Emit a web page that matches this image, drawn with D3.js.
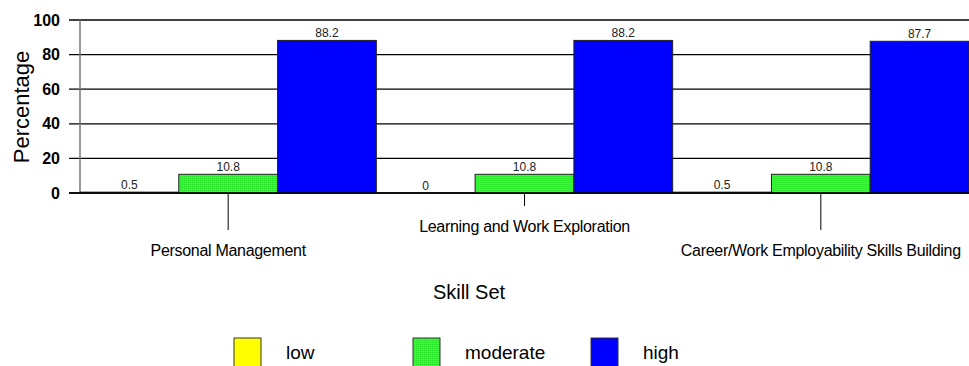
<!DOCTYPE html>
<html>
<head>
<meta charset="utf-8">
<script src="https://cdn.jsdelivr.net/npm/d3@7"></script>
<style>
  html, body { margin: 0; padding: 0; background: #fff; }
  svg { display: block; font-family: "Liberation Sans", Arial, sans-serif; }
</style>
</head>
<body>
<svg id="chart" width="969" height="366"></svg>
<script>
// Skill set ratings, percentage of respondents per level
const categories = ["Personal Management", "Learning and Work Exploration", "Career/Work Employability Skills Building"];
const seriesNames = ["low", "moderate", "high"];
const lowValues = [0.5, 0, 0.5];
const moderateValues = [10.8, 10.8, 10.8];
const highValues = [88.2, 88.2, 87.7];
const yTicks = [0, 20, 40, 60, 80, 100];
const colors = ["#ffff00", "url(#greenTex)", "#0000ff"];
const legendColors = ["#ffff00", "url(#greenTex)", "#0000ff"];

const seriesValues = [lowValues, moderateValues, highValues];

const svg = d3.select("#chart");
const W = 969;

// green fill with a fine texture
const defs = svg.append("defs");
const pat = defs.append("pattern").attr("id", "greenTex")
  .attr("width", 2).attr("height", 2).attr("patternUnits", "userSpaceOnUse");
pat.append("rect").attr("width", 2).attr("height", 2).attr("fill", "#38fb38");
pat.append("rect").attr("width", 1).attr("height", 1).attr("fill", "#22dd22");

const plot = { left: 80, right: 969, top: 20, bottom: 193 };

const x0 = d3.scaleBand().domain(categories).range([plot.left, plot.right]).paddingInner(0).paddingOuter(0);
const x1 = d3.scaleBand().domain(seriesNames).range([0, x0.bandwidth()]).padding(0);
const y = d3.scaleLinear().domain([0, 100]).range([plot.bottom, plot.top]);

// horizontal gridlines with ticks extending left
const yAxis = d3.axisLeft(y).tickValues(yTicks).tickSize(0).tickFormat(d => d);
svg.append("g")
  .selectAll("line.grid")
  .data(yTicks)
  .join("line")
  .attr("x1", plot.left - 11).attr("x2", W)
  .attr("y1", d => y(d)).attr("y2", d => y(d))
  .attr("stroke", "#000").attr("stroke-width", 1.3);

const yg = svg.append("g").attr("transform", `translate(${plot.left - 17},0)`).call(yAxis);
yg.select(".domain").remove();
yg.selectAll("text")
  .attr("font-size", 16).attr("font-weight", "bold")
  .attr("fill", "#000").attr("font-family", "Liberation Sans, Arial, sans-serif");

// vertical axis line
svg.append("line")
  .attr("x1", plot.left).attr("x2", plot.left)
  .attr("y1", y(100)).attr("y2", y(0))
  .attr("stroke", "#777").attr("stroke-width", 1.5);

// bars
const groups = svg.append("g").selectAll("g")
  .data(categories)
  .join("g")
  .attr("transform", d => `translate(${x0(d)},0)`);

groups.selectAll("rect")
  .data((d, i) => seriesNames.map((s, j) => ({ s, j, v: seriesValues[j][i] })))
  .join("rect")
  .attr("x", d => x1(d.s))
  .attr("width", x1.bandwidth())
  .attr("y", d => y(d.v))
  .attr("height", d => y(0) - y(d.v))
  .attr("fill", d => colors[d.j])
  .attr("stroke", "#222").attr("stroke-width", 1);

groups.selectAll("text.val")
  .data((d, i) => seriesNames.map((s, j) => ({ s, j, v: seriesValues[j][i] })))
  .join("text")
  .attr("class", "val")
  .attr("x", d => x1(d.s) + x1.bandwidth() / 2)
  .attr("y", d => y(d.v) - 3.5)
  .attr("text-anchor", "middle")
  .attr("font-size", 12)
  .attr("fill", "#222")
  .text(d => d.v);

// zero baseline
svg.append("line")
  .attr("x1", plot.left - 11).attr("x2", W)
  .attr("y1", y(0)).attr("y2", y(0))
  .attr("stroke", "#000").attr("stroke-width", 1.5);

// category ticks and staggered labels
const tickLen = [37, 13, 37];
const labelY = [256, 232, 256];
categories.forEach((c, i) => {
  const cx = x0(c) + x0.bandwidth() / 2;
  svg.append("line")
    .attr("x1", cx).attr("x2", cx)
    .attr("y1", y(0)).attr("y2", y(0) + tickLen[i])
    .attr("stroke", "#000").attr("stroke-width", 1);
  svg.append("text")
    .attr("x", cx).attr("y", labelY[i])
    .attr("text-anchor", "middle")
    .attr("font-size", 16)
    .attr("letter-spacing", -0.3)
    .attr("fill", "#000")
    .text(c);
});

// axis titles
svg.append("text")
  .attr("transform", "translate(29,107) rotate(-90)")
  .attr("text-anchor", "middle")
  .attr("font-size", 22)
  .attr("fill", "#000")
  .text("Percentage");

svg.append("text")
  .attr("x", 469).attr("y", 299)
  .attr("text-anchor", "middle")
  .attr("font-size", 20)
  .attr("fill", "#000")
  .text("Skill Set");

// legend
const legendX = [234, 413, 591];
seriesNames.forEach((s, i) => {
  svg.append("rect")
    .attr("x", legendX[i]).attr("y", 338)
    .attr("width", 27).attr("height", 30)
    .attr("fill", legendColors[i])
    .attr("stroke", "#333").attr("stroke-width", 1);
  svg.append("text")
    .attr("x", legendX[i] + 52).attr("y", 359)
    .attr("font-size", 19)
    .attr("fill", "#000")
    .text(s);
});
</script>
</body>
</html>
